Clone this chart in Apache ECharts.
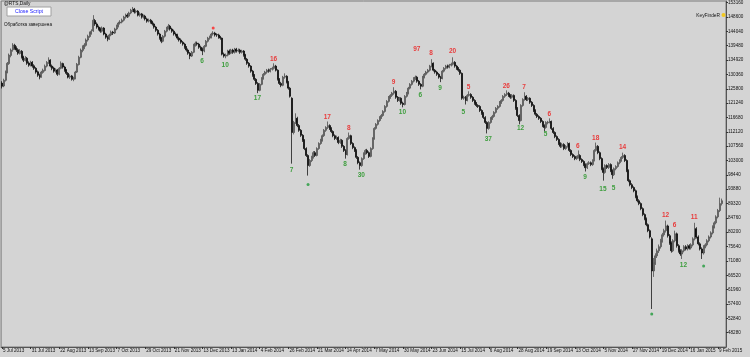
<!DOCTYPE html>
<html><head><meta charset="utf-8">
<script src="https://cdn.jsdelivr.net/npm/echarts@6/dist/echarts.min.js"></script>
<style>html,body{margin:0;padding:0;background:#d4d4d4}#c{width:750px;height:357px}</style>
</head><body><div id="c"></div>
<script>
const tickLabels = ["5 Jul 2013","31 Jul 2013","22 Aug 2013","13 Sep 2013","7 Oct 2013","29 Oct 2013","21 Nov 2013","13 Dec 2013","13 Jan 2014","4 Feb 2014","26 Feb 2014","21 Mar 2014","14 Apr 2014","7 May 2014","30 May 2014","23 Jun 2014","15 Jul 2014","6 Aug 2014","28 Aug 2014","19 Sep 2014","13 Oct 2014","5 Nov 2014","27 Nov 2014","19 Dec 2014","16 Jan 2015","9 Feb 2015"];
const barsPerLabel = 16;
const slotCount = 405;
// [open, close, low, high]
const ohlc = [
[127600,126600,125900,128200],[126700,128500,126300,129000],[128500,131100,128100,131600],[131000,133900,130700,134300],[133800,136500,133400,137000],
[136400,138100,135800,138600],[138200,139700,137600,140300],[139600,138700,138200,140100],[138800,138100,137500,139300],[138200,137100,136600,138700],
[137000,137800,136700,138400],[137700,135800,135400,138100],[135900,134900,134300,136300],[134800,135500,134500,136200],[135500,133900,133400,135900],
[134000,133300,132800,134500],[133200,134200,132900,134700],[134200,133000,132500,134600],[133100,132300,131800,133600],[132300,131100,130600,132700],
[131200,130100,129600,131600],[130100,129500,128800,130600],[129600,131100,129300,131500],[131000,131700,130600,132200],[131600,133000,131300,133500],
[133000,134200,132600,134600],[134100,134900,133700,135800],[134900,133000,132600,135200],[133000,132300,131700,133500],[132400,131400,130900,132800],
[131300,131700,130900,132300],[131800,130400,129900,132100],[130400,132300,130100,132700],[132300,133900,132000,134500],[133800,132700,132200,134100],
[132700,131700,131200,133100],[131800,130700,130200,132100],[130700,129500,129100,131100],[129500,129800,128900,130400],[129900,128800,128400,130200],
[128800,129100,128200,129600],[129100,131100,128800,131500],[131100,133600,130800,134000],[133500,135800,133200,136300],[135800,138100,135500,138600],
[138000,139000,137400,139600],[139000,139700,138400,140300],[139600,141300,139200,141800],[141300,142500,140800,143000],[142400,143500,142000,144000],
[143500,144100,143000,144700],[144200,147600,143900,149200],[147500,146400,145800,148000],[146400,145400,144900,146900],[145400,144800,144300,145900],
[144800,144100,143600,145300],[144100,145100,143700,145600],[145100,143200,142800,145400],[143200,142200,141700,143600],[142200,141600,140900,142700],
[141600,142900,141300,143300],[142900,143800,142500,144300],[143800,143500,142900,144200],[143500,144800,143200,145200],[144800,145700,144400,146200],
[145700,146700,145300,147100],[146700,147000,146200,147600],[147000,147600,146600,148100],[147600,148600,147200,149000],[148600,149200,148100,149700],
[149200,148900,148300,149800],[148900,149900,148500,150300],[149900,150800,149500,151200],[150800,151100,150200,151800],[151100,150200,149700,151500],
[150200,150500,149800,151000],[150500,149200,148800,150800],[149200,149600,148700,150100],[149600,148600,148100,149900],[148600,148900,148100,149400],
[148900,148000,147500,149300],[148000,147300,146800,148400],[147300,147600,146900,148100],[147600,147000,146500,148000],[147000,146400,145900,147400],
[146400,145400,144900,146800],[145400,144400,143900,145800],[144400,143200,142700,144800],[143200,141900,141400,143600],[141900,140900,140300,142300],
[140900,142500,140600,142900],[142500,144100,142100,144500],[144100,145100,143700,145500],[145100,145700,144600,146400],[145700,144800,144300,146100],
[144800,144100,143600,145200],[144100,143200,142700,144600],[143200,142900,142400,143700],[142900,141900,141400,143300],[141900,141300,140800,142400],
[141300,140600,140100,141800],[140600,140000,139500,141000],[140000,139000,138500,140400],[139000,138100,137600,139400],[138100,137100,136600,138600],
[137100,136200,135200,137500],[136200,137400,135900,137800],[137400,139700,137100,140100],[139700,140300,139200,140800],[140300,140000,139500,140800],
[140000,139000,138500,140400],[139000,138400,137900,139500],[138400,137800,136500,138900],[137800,139300,137400,139700],[139300,140900,139000,141300],
[140900,141900,140500,142300],[141900,142200,141400,142700],[142200,143200,141800,143600],[143200,143500,142700,144100],[143500,142900,142400,143900],
[143000,142900,142300,143400],[142900,142200,141700,143300],[142200,141900,141400,142600],[141900,136800,136400,142100],[136800,136200,135700,137300],
[136200,136500,135500,137000],[136500,137800,136100,138200],[137800,137100,136600,138300],[137100,138100,136800,138500],[138100,137400,136900,138500],
[137400,138400,137000,138800],[138400,137800,137300,138800],[137800,138100,137400,138600],[138100,137400,136900,138500],[137400,137800,137000,138200],
[137800,136500,136000,138100],[136500,135200,134700,136900],[135200,133900,133400,135600],[133900,133000,132500,134300],[133000,131400,130900,133300],
[131400,130100,129600,131800],[130100,128800,128300,130500],[128800,127500,127000,129200],[127500,125300,124400,127900],[125300,127200,125000,127600],
[127200,129100,126900,129500],[129100,130400,128700,130800],[130400,131100,130000,131500],[131100,131700,130600,132100],[131700,131400,130900,132200],
[131400,132000,131000,132400],[132000,132300,131600,132800],[132300,133000,131900,133900],[133000,131700,131300,133400],[131700,128800,128400,132000],
[128800,127500,127000,129200],[127500,126900,126300,128000],[126900,129500,126600,129900],[129500,129800,129000,130700],[129800,127900,127500,130100],
[127900,126000,125500,128300],[126000,123400,123000,126400],[122800,111900,102000,123100],[111900,115100,111300,115600],[115100,116400,114600,118000],
[116400,114100,113600,116900],[114100,112600,112100,114600],[112600,111000,110500,113000],[111000,109400,108900,111400],[109400,106800,106300,109800],
[106800,104600,104100,107200],[104600,101400,98200,105000],[101400,103000,101000,103500],[103000,104000,102500,104500],[104000,105500,103600,106000],
[105500,104600,104100,106000],[104600,106800,104300,107200],[106800,108400,106400,108800],[108400,109400,108000,109900],[109400,110900,109000,111300],
[110900,112600,110500,113000],[112600,113500,112100,113900],[113500,114100,113000,115400],[114100,113200,112700,114500],[113200,112200,111700,113600],
[112200,110900,110400,112600],[110900,110000,109500,111300],[110000,110300,109500,110900],[110300,108700,108200,110700],[108700,109400,108300,109900],
[109400,107500,107000,109800],[107500,106200,105700,107900],[106200,104900,103600,106600],[104900,110000,104600,110400],[110000,110900,109600,111900],
[110900,108400,107900,111200],[108400,107100,106600,108800],[107100,106200,105700,107500],[106200,104000,103500,106600],[104000,102300,101800,104400],
[102300,101400,100100,102700],[101400,103600,101000,104000],[103600,105200,103200,105600],[105200,106200,104800,106600],[106200,105500,105000,106700],
[105500,104300,103800,105900],[104300,106800,104000,107200],[106800,110000,106400,110400],[110000,113200,109600,113600],[113200,114500,112800,114900],
[114500,115700,114100,116100],[115700,116700,115300,117100],[116700,117300,116200,117800],[117300,118600,116900,119000],[118600,120200,118200,120600],
[120200,121800,119800,122200],[121800,123100,121400,123500],[123100,123700,122600,124100],[123700,124400,123200,124800],[124400,125000,123900,126300],
[125000,123100,122600,125400],[123100,122100,121600,123500],[122100,122800,121700,123200],[122800,121200,120700,123100],[121200,120800,119900,121700],
[120800,123400,120500,123800],[123400,124400,123000,124800],[124400,126000,124000,126400],[126000,127200,125600,127600],[127200,128200,126800,128600],
[128200,129100,127800,129500],[129100,129500,128600,130000],[129500,128200,127700,129900],[128200,127200,126700,128600],[127200,126600,125600,127600],
[126600,129500,126300,129900],[129500,130400,129100,130800],[130400,131100,130000,131500],[131100,131700,130700,132100],[131700,133000,131300,133400],
[133000,133900,132600,135200],[133900,131700,131300,134200],[131700,131100,130600,132100],[131100,130400,129900,131500],[130400,129500,129000,130800],
[129500,129100,127900,129900],[129100,131400,128800,131800],[131400,132300,131000,132700],[132300,133000,131900,133400],[133000,132700,132200,133500],
[132700,133300,132300,133700],[133300,133600,132900,134100],[133600,134200,133200,135800],[134200,133000,132500,134600],[133000,132300,131800,133400],
[132300,131700,131200,132700],[131700,130700,130200,132100],[130700,122800,122300,131000],[122800,123100,122300,123600],[123100,122100,120800,123500],
[122100,123700,121800,124100],[123700,124000,123300,125000],[124000,123100,122600,124400],[123100,122100,121600,123500],[122100,121200,120700,122500],
[121200,120500,120000,121600],[120500,120200,119700,120900],[120200,118900,118400,120600],[118900,118000,117500,119300],[118000,116700,116200,118400],
[116700,115100,114600,117100],[115100,113200,111600,115500],[113200,115100,112800,115500],[115100,116400,114700,116800],[116400,117000,115900,117500],
[117000,118300,116600,118700],[118300,119600,117900,120000],[119600,120200,119100,120600],[120200,121500,119800,121900],[121500,122100,121000,122500],
[122100,123400,121700,123800],[123400,124000,122900,124400],[124000,124400,123500,125300],[124400,123700,123200,124800],[123700,123100,122600,124100],
[123100,123700,122700,124100],[123700,122100,121600,124000],[122100,119600,119100,122500],[119600,117300,116800,120000],[117300,115700,114500,117700],
[115700,120500,115400,120900],[120500,122400,120100,122800],[122400,123400,122000,124700],[123400,122400,121900,123800],[122400,122800,121900,123200],
[122800,121500,121000,123100],[121500,120500,120000,121900],[120500,118900,118400,120900],[118900,117700,117200,119300],[117700,117000,116500,118100],
[117000,116400,115900,117400],[116400,115400,114900,116800],[115400,114100,113600,115800],[114100,113500,112200,114500],[113500,115100,113100,115500],
[115000,115200,114500,115600],[115200,115400,114800,116400],[115400,113200,112700,115700],[113200,111900,111400,113600],[111900,110600,110100,112300],
[110600,109700,109200,111000],[109700,108400,107900,110100],[108400,107500,107000,108800],[107500,108100,107100,108600],[108100,106800,106300,108500],
[106800,107500,106400,107900],[107500,108400,107100,108900],[108400,106200,105700,108700],[106200,104900,104400,106600],[104900,104300,103800,105300],
[104300,103600,103100,104700],[103600,104000,103200,104500],[104000,104600,103600,106200],[104600,103300,102800,105000],[103300,102700,102200,103700],
[102700,101700,101200,103100],[101700,100700,99500,102100],[100700,102000,100300,102400],[102000,102300,101600,102800],[102300,101700,101200,102700],
[101700,103000,101300,103400],[103000,106200,102700,106600],[106200,107500,105800,108700],[107500,105500,105000,107900],[105500,103600,103100,105900],
[103600,100400,99900,104000],[100400,99200,96600,100800],[99200,101400,98800,101800],[101400,100800,100300,101800],[100800,101700,100300,102200],
[101700,99800,99300,102100],[99800,98500,97200,100200],[98500,100400,98100,100800],[100400,101100,99900,101500],[101100,102300,100700,102700],
[102300,103000,101800,103400],[103000,104000,102600,104400],[104000,104600,103500,105500],[104600,103000,102500,105000],[103000,99800,99300,103400],
[99800,96600,96100,100200],[96600,95300,94800,97000],[95300,94400,93900,95800],[94400,93400,92900,94800],[93400,91500,91000,93800],
[91500,90200,89700,91900],[90200,89300,88800,90700],[89300,87700,87200,89700],[87700,85800,85300,88100],[85800,84500,84000,86200],
[84500,82600,82100,84900],[82600,80700,80200,83000],[80700,78700,78200,81100],[78100,67900,55800,78600],[67900,70500,66000,72000],
[70500,72700,69800,73500],[72700,74300,72000,75000],[74300,75600,73600,76300],[75600,77500,75000,78100],[77500,79400,76900,80000],
[79400,80700,78800,81300],[80700,82200,80100,83900],[82200,79100,78500,82600],[79100,76800,76200,79600],[76800,74300,73700,77300],
[74300,77500,73900,78000],[77500,79700,77000,80700],[79700,75900,75300,80100],[75900,74300,73700,76400],[74300,73300,72700,74800],
[73300,74300,71700,74800],[74300,75600,73800,76100],[75600,74900,74400,76100],[74900,75900,74400,76400],[75900,75200,74700,76400],
[75200,76200,74700,76700],[76200,78100,75700,78600],[78100,81300,77600,83200],[81300,78700,78200,81800],[78700,76500,76000,79200],
[76500,74900,74400,77000],[74900,73600,71700,75400],[73600,75600,73100,76100],[75600,76200,75100,76700],[76200,77500,75700,78000],
[77500,78700,77000,79200],[78700,80000,78200,80500],[80000,81900,79500,82400],[81900,83200,81400,83700],[83200,85100,82700,85600],
[85100,87100,84600,87600],[87100,89300,86600,91200],[89300,90200,88700,90900]
];
// [bar index, price, text]
const redMarks = [[152,134890,"16"],[182,116700,"17"],[194,113200,"8"],[219,127870,"9"],[232,138080,"97"],[240,136800,"8"],[252,137440,"20"],[261,126270,"5"],[282,126600,"26"],[292,126270,"7"],[306,117660,"6"],[322,107460,"6"],[332,110010,"18"],[347,107140,"14"],[371,85460,"12"],[376,82270,"6"],[387,84820,"11"]];
const greenMarks = [[112,134250,"6"],[125,133290,"10"],[143,122770,"17"],[162,99800,"7"],[192,101720,"8"],[201,98210,"30"],[224,118300,"10"],[234,123730,"6"],[245,125960,"9"],[258,118300,"5"],[272,109690,"37"],[290,113200,"12"],[304,111230,"5"],[326,97580,"9"],[336,93750,"15"],[342,94070,"5"],[381,69500,"12"]];
const redDots = [[118,145090]];
const greenDots = [[171,95340],[363,54200],[392,69500]];
const yMin = 43720, yMax = 153700, yStep = 4560;

const cats = [];
for (let i = 0; i < slotCount; i++) cats.push(String(i));
const chart = echarts.init(document.getElementById('c'), null, {renderer: 'canvas'});
const isTick = (i) => i % barsPerLabel === 0 && (i / barsPerLabel) < tickLabels.length;
const markLabel = (col) => ({show: true, position: [0, 0], align: 'center', verticalAlign: 'middle', formatter: (p) => p.data[2], color: col, fontSize: 6.5, fontWeight: 'bold', textBorderWidth: 0, textShadowBlur: 0, opacity: 1});
chart.setOption({
  animation: false,
  backgroundColor: '#d4d4d4',
  textStyle: {fontFamily: 'Liberation Sans, Arial, sans-serif'},
  grid: {left: 1, right: 24, top: 1, bottom: 10, show: true, borderColor: '#7a7a7a', borderWidth: 1, backgroundColor: 'transparent'},
  xAxis: {
    type: 'category', data: cats, boundaryGap: true,
    axisLine: {show: true, lineStyle: {color: '#555', width: 1}},
    axisTick: {show: true, alignWithLabel: true, interval: (i) => isTick(i), length: 2, lineStyle: {color: '#333'}},
    axisLabel: {show: true, interval: (i) => isTick(i), formatter: (v, i) => tickLabels[i / barsPerLabel] || '', fontSize: 4.6, color: '#111', align: 'left', margin: 1, padding: [0,0,0,1]},
    splitLine: {show: false}
  },
  yAxis: {
    type: 'value', position: 'right', min: yMin, max: yMax, interval: yStep,
    axisLine: {show: true, lineStyle: {color: '#555', width: 1}},
    axisTick: {show: true, length: 2, lineStyle: {color: '#333'}},
    axisLabel: {fontSize: 4.6, color: '#111', margin: 2, showMinLabel: false, showMaxLabel: false, formatter: (v) => String(v)},
    splitLine: {show: false}
  },
  series: [
    {type: 'candlestick', data: ohlc, barWidth: 1.5, z: 2,
     itemStyle: {color: '#b8b8b8', color0: '#000000', borderColor: '#3c3c3c', borderColor0: '#000000', borderWidth: 0.7}},
    {type: 'scatter', data: redMarks, symbolSize: 1, z: 10, silent: true, itemStyle: {color: 'rgba(0,0,0,0)'},
     label: markLabel('#e83c3c')},
    {type: 'scatter', data: greenMarks, symbolSize: 1, z: 10, silent: true, itemStyle: {color: 'rgba(0,0,0,0)'},
     label: markLabel('#3e9e3e')},
    {type: 'scatter', data: redDots, symbolSize: 3, z: 10, silent: true, itemStyle: {color: '#ff2020'}},
    {type: 'scatter', data: greenDots, symbolSize: 3, z: 10, silent: true, itemStyle: {color: '#1f9a3a'}}
  ],
  graphic: [
    {type: 'text', left: 4, top: 1, style: {text: '@RTS,Daily', font: '4.8px Liberation Sans', fill: '#111'}},
    {type: 'rect', shape: {x: 7, y: 7, width: 44, height: 9}, style: {fill: '#ffffff', stroke: '#a0a0a0', lineWidth: 1}},
    {type: 'text', x: 29, y: 11.5, style: {text: 'Close Script', font: '5.2px Liberation Sans', fill: '#1a1aff', textAlign: 'center', textVerticalAlign: 'middle'}},
    {type: 'text', left: 4, top: 22, style: {text: 'Обработка завершена', font: '4.6px Liberation Sans', fill: '#111'}},
    {type: 'text', x: 720, y: 15.5, style: {text: 'KeyFindeR', font: '4.8px Liberation Sans', fill: '#111', textAlign: 'right', textVerticalAlign: 'middle'}},
    {type: 'circle', shape: {cx: 723.5, cy: 15, r: 2}, style: {fill: '#f2c81e'}}
  ]
});
</script></body></html>
